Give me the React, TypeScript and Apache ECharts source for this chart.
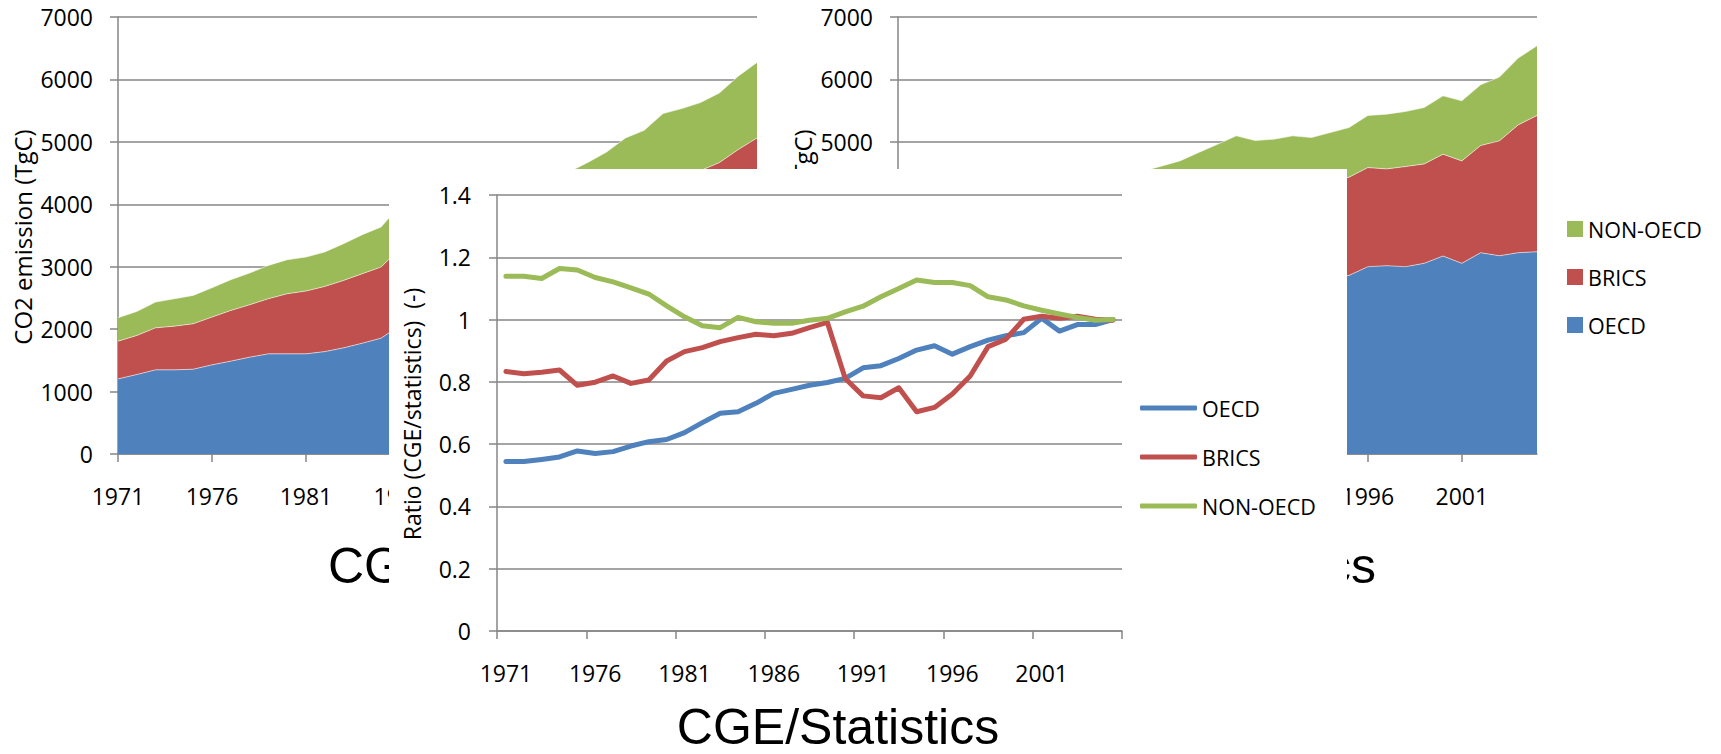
import { useEffect, useRef } from "react";
import * as echarts from "echarts";

// ---------- data ----------
const years: string[] = [
  "1971", "1972", "1973", "1974", "1975", "1976", "1977", "1978", "1979", "1980",
  "1981", "1982", "1983", "1984", "1985", "1986", "1987", "1988", "1989", "1990",
  "1991", "1992", "1993", "1994", "1995", "1996", "1997", "1998", "1999", "2000",
  "2001", "2002", "2003", "2004", "2005",
];

// CGE results, CO2 emission (TgC), per region
const cgeOECD = [
  1203, 1273, 1348, 1348, 1358, 1428, 1487, 1551, 1604, 1604,
  1604, 1640, 1700, 1775, 1856, 2060, 2142, 2249, 2304, 2336,
  2408, 2437, 2476, 2540, 2600, 2660, 2740, 2780, 2850, 2950,
  2980, 3020, 3060, 3120, 3150,
];
const cgeBRICS = [
  604, 625, 673, 700, 728, 765, 812, 839, 883, 963,
  1006, 1044, 1081, 1113, 1139, 1232, 1286, 1334, 1427, 1127,
  1080, 1094, 1156, 1050, 1060, 1200, 1300, 1400, 1420, 1450,
  1480, 1520, 1608, 1756, 1912,
];
const cgeNON = [
  375, 385, 412, 439, 454, 470, 492, 508, 534, 545,
  545, 551, 588, 625, 641, 687, 716, 739, 781, 770,
  796, 833, 835, 870, 860, 810, 798, 882, 916, 1053,
  1074, 1090, 1116, 1176, 1210,
];

// Statistics, CO2 emission (TgC), per region
const statOECD = [
  2210, 2330, 2440, 2400, 2350, 2500, 2580, 2610, 2640, 2610,
  2520, 2450, 2460, 2620, 2660, 2700, 2760, 2850, 2880, 2880,
  2850, 2860, 2830, 2840, 2861, 3000, 3016, 3000, 3054, 3171,
  3054, 3224, 3176, 3224, 3240,
];
const statBRICS = [
  720, 760, 810, 835, 920, 955, 990, 1055, 1095, 1110,
  1120, 1150, 1165, 1250, 1280, 1300, 1345, 1370, 1440, 1390,
  1430, 1460, 1480, 1530, 1573, 1588, 1551, 1604, 1593, 1631,
  1641, 1717, 1840, 2048, 2182,
];
const statNON = [
  330, 340, 365, 375, 390, 415, 440, 460, 495, 520,
  540, 560, 600, 660, 670, 695, 725, 740, 776, 751,
  763, 776, 759, 779, 795, 834, 877, 882, 903, 935,
  962, 973, 1021, 1070, 1117,
];

// Ratio CGE / statistics
const ratioOECD = [
  0.544, 0.544, 0.551, 0.559, 0.578, 0.57, 0.576, 0.594, 0.608, 0.615,
  0.637, 0.669, 0.699, 0.704, 0.731, 0.763, 0.776, 0.789, 0.798, 0.811,
  0.845, 0.852, 0.875, 0.902, 0.916, 0.889, 0.913, 0.934, 0.948, 0.958,
  1.004, 0.963, 0.984, 0.984, 1.0,
];
const ratioBRICS = [
  0.833, 0.826, 0.831, 0.838, 0.789, 0.799, 0.819, 0.795, 0.806, 0.867,
  0.897, 0.91, 0.929, 0.942, 0.953, 0.948, 0.956, 0.974, 0.991, 0.811,
  0.755, 0.749, 0.781, 0.704, 0.718, 0.761, 0.819, 0.913, 0.937, 1.001,
  1.011, 1.004, 1.011, 1.001, 0.998,
];
const ratioNON = [
  1.139, 1.139, 1.132, 1.164, 1.159, 1.135, 1.121, 1.102, 1.082, 1.044,
  1.009, 0.98, 0.974, 1.007, 0.993, 0.988, 0.988, 0.998, 1.004, 1.025,
  1.043, 1.073, 1.1, 1.127, 1.119, 1.119, 1.109, 1.073, 1.063, 1.044,
  1.03, 1.018, 1.007, 0.998, 1.0,
];

const regionNames = ["OECD", "BRICS", "NON-OECD"];
const titles = { left: "CGE", right: "Statistics", middle: "CGE/Statistics" };
const yNameEmission = "CO2 emission (TgC)";
const yNameRatio = "Ratio (CGE/statistics)\u00a0\u00a0(-)";

// ---------- style ----------
const BLUE = "#4F81BD";
const RED = "#C0504D";
const GREEN = "#9BBB59";
const GRAY = "#868686";
const FONT = "'Open Sans', 'DejaVu Sans', sans-serif";
const TITLE_FONT = "'Liberation Sans', Arial, sans-serif";
const colors = [BLUE, RED, GREEN];
const TICK_FONT = 23;

function areaXAxis(gridIndex: number) {
  return {
    type: "category",
    gridIndex,
    data: years,
    boundaryGap: false,
    z: 1,
    axisLine: { show: true, lineStyle: { color: GRAY, width: 1.5 } },
    axisTick: { show: true, interval: 4, length: 8, lineStyle: { color: GRAY, width: 1.5 } },
    axisLabel: { interval: 4, margin: 30, color: "#000", fontSize: TICK_FONT, fontFamily: FONT },
    splitLine: { show: false },
  };
}

function areaYAxis(gridIndex: number) {
  return {
    type: "value",
    gridIndex,
    min: 0,
    max: 7000,
    interval: 1000,
    z: 1,
    axisLine: { show: true, lineStyle: { color: GRAY, width: 1.5 } },
    axisTick: { show: true, length: 8, lineStyle: { color: GRAY, width: 1.5 } },
    axisLabel: {
      margin: 25,
      color: "#000",
      fontSize: TICK_FONT,
      fontFamily: FONT,
      formatter: (v: number) => String(v),
    },
    splitLine: { show: true, lineStyle: { color: GRAY, width: 1.5 } },
  };
}

function areaSeries(idx: number, stack: string, values: number[][]) {
  return values.map((vals, i) => ({
    name: regionNames[i],
    type: "line",
    xAxisIndex: idx,
    yAxisIndex: idx,
    stack,
    data: vals,
    symbol: "none",
    z: 2,
    itemStyle: { color: colors[i] },
    lineStyle: { width: 1, color: "rgba(255,255,255,0.55)" },
    areaStyle: { color: colors[i], opacity: 1 },
  }));
}

export default function App() {
  const ref = useRef<HTMLDivElement>(null);

  useEffect(() => {
    if (!ref.current) return;
    const chart = echarts.init(ref.current, undefined, { renderer: "svg" });

    const ratioSeries = [ratioOECD, ratioBRICS, ratioNON].map((vals, i) => ({
      name: regionNames[i],
      type: "line",
      xAxisIndex: 2,
      yAxisIndex: 2,
      data: vals,
      symbol: "none",
      z: 21,
      itemStyle: { color: colors[i] },
      lineStyle: { width: 5, color: colors[i], cap: "round", join: "round" },
    }));

    const lineLegendTops = [392, 441, 490];
    const areaLegendOrder = ["NON-OECD", "BRICS", "OECD"];
    const areaLegendTops = [213, 261, 309];

    const option: any = {
      animation: false,
      backgroundColor: "#ffffff",
      grid: [
        { left: 118, top: 17, width: 639, height: 437, outerBoundsMode: "none" },
        { left: 898, top: 17, width: 639, height: 437, outerBoundsMode: "none" },
        { left: 497, top: 195, width: 625, height: 436, outerBoundsMode: "none" },
      ],
      xAxis: [
        areaXAxis(0),
        areaXAxis(1),
        {
          type: "category",
          gridIndex: 2,
          data: years,
          boundaryGap: true,
          z: 20,
          axisLine: { show: true, lineStyle: { color: GRAY, width: 1.5 } },
          axisTick: { show: true, interval: 4, length: 8, lineStyle: { color: GRAY, width: 1.5 } },
          axisLabel: { interval: 4, margin: 30, color: "#000", fontSize: TICK_FONT, fontFamily: FONT },
          splitLine: { show: false },
        },
      ],
      yAxis: [
        areaYAxis(0),
        areaYAxis(1),
        {
          type: "value",
          gridIndex: 2,
          min: 0,
          max: 1.4,
          interval: 0.2,
          z: 20,
          axisLine: { show: true, lineStyle: { color: GRAY, width: 1.5 } },
          axisTick: { show: true, length: 8, lineStyle: { color: GRAY, width: 1.5 } },
          axisLabel: { margin: 26, color: "#000", fontSize: TICK_FONT, fontFamily: FONT },
          splitLine: { show: true, lineStyle: { color: GRAY, width: 1.5 } },
        },
      ],
      legend: [
        ...regionNames.map((name, i) => ({
          data: [{ name, icon: "roundRect" }],
          left: 1135,
          top: lineLegendTops[i],
          orient: "vertical",
          itemWidth: 57,
          itemHeight: 5,
          selectedMode: false,
          z: 30,
          textStyle: { color: "#000", fontSize: 21.5, fontFamily: FONT },
        })),
        ...areaLegendOrder.map((name, i) => ({
          data: [{ name, icon: "rect" }],
          left: 1562,
          top: areaLegendTops[i],
          orient: "vertical",
          itemWidth: 16,
          itemHeight: 16,
          selectedMode: false,
          z: 30,
          textStyle: { color: "#000", fontSize: 21.5, fontFamily: FONT },
        })),
      ],
      series: [
        ...areaSeries(0, "cge", [cgeOECD, cgeBRICS, cgeNON]),
        ...areaSeries(1, "stat", [statOECD, statBRICS, statNON]),
        ...ratioSeries,
      ],
      graphic: [
        {
          type: "text",
          x: 22,
          y: 237,
          rotation: Math.PI / 2,
          z: 5,
          style: { text: yNameEmission, fill: "#000", fontSize: 24, fontFamily: FONT, align: "center", verticalAlign: "middle" },
        },
        {
          type: "text",
          x: 802,
          y: 237,
          rotation: Math.PI / 2,
          z: 5,
          style: { text: yNameEmission, fill: "#000", fontSize: 24, fontFamily: FONT, align: "center", verticalAlign: "middle" },
        },
        {
          type: "text",
          x: 328,
          y: 566,
          z: 5,
          style: { text: titles.left, fill: "#000", fontSize: 50, fontFamily: TITLE_FONT, align: "left", verticalAlign: "middle" },
        },
        {
          type: "text",
          x: 1376,
          y: 566,
          z: 5,
          style: { text: titles.right, fill: "#000", fontSize: 50, fontFamily: TITLE_FONT, align: "right", verticalAlign: "middle" },
        },
        {
          type: "rect",
          z: 10,
          shape: { x: 389, y: 169, width: 958, height: 585 },
          style: { fill: "#ffffff" },
        },
        {
          type: "text",
          x: 412,
          y: 414,
          rotation: Math.PI / 2,
          z: 25,
          style: { text: yNameRatio, fill: "#000", fontSize: 23, fontFamily: FONT, align: "center", verticalAlign: "middle" },
        },
        {
          type: "text",
          x: 838,
          y: 727,
          z: 25,
          style: { text: titles.middle, fill: "#000", fontSize: 50, fontFamily: TITLE_FONT, align: "center", verticalAlign: "middle" },
        },
      ],
    };

    chart.setOption(option);
    return () => chart.dispose();
  }, []);

  return (
    <div style={{ position: "absolute", left: 0, top: 0, width: 1721, height: 754, background: "#fff" }}>
      <div ref={ref} style={{ width: 1721, height: 754 }} />
    </div>
  );
}
